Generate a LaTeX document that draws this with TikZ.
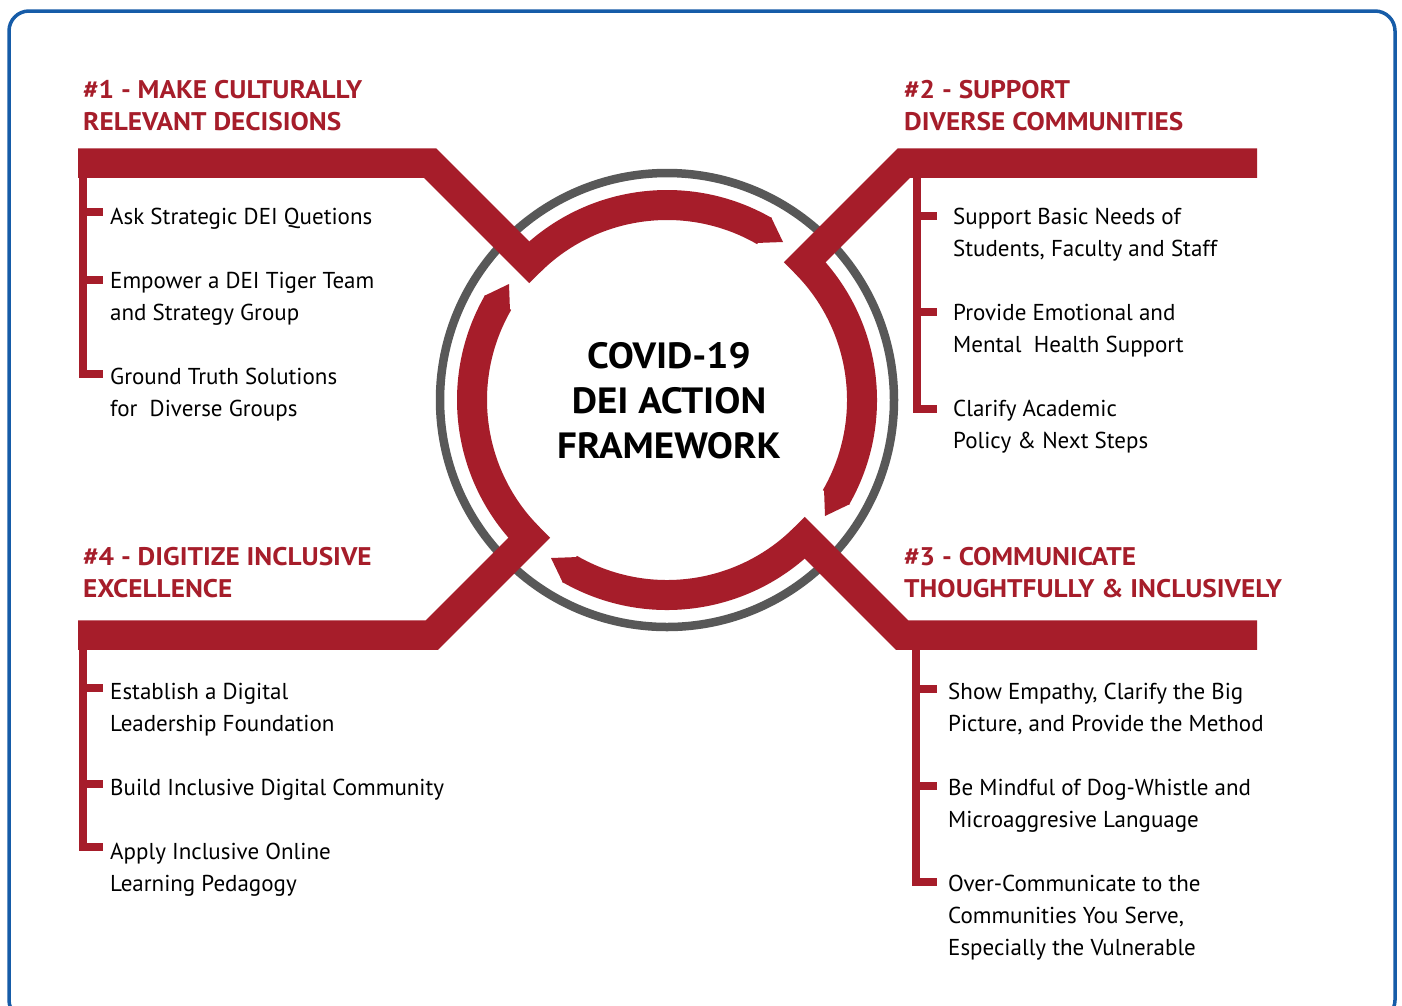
\documentclass[tikz,border=0pt]{standalone}
\usepackage{fontspec}
\usetikzlibrary{calc}
\setmainfont{PT Sans}
\newfontfamily\headfont[FakeStretch=1.07]{PT Sans Bold}
\definecolor{dred}{RGB}{166,29,42}
\definecolor{rgray}{RGB}{88,88,88}
\definecolor{bblue}{RGB}{22,92,168}
\newcommand{\mlines}[1]{\begin{tabular}[t]{@{}l@{}}#1\end{tabular}}
\newcommand{\mcent}[1]{\begin{tabular}[t]{@{}c@{}}#1\end{tabular}}
\begin{document}
\begin{tikzpicture}[x=1pt,y=-1pt,
  band/.style={draw=dred, line width=29.5pt, line join=miter, line cap=butt},
  redarc/.style={draw=dred, line width=30pt, line cap=butt},
  flare/.style={fill=dred},
  brk/.style={draw=dred, line width=7.5pt, line join=miter, line cap=butt},
  item/.style={anchor=base west, inner sep=0pt, font=\fontsize{23}{32}\selectfont},
  head/.style={anchor=base west, inner sep=0pt, text=dred, font=\headfont\fontsize{25.5}{32}\selectfont},
  ttl/.style={anchor=base, inner sep=0pt, font=\headfont\fontsize{36.5}{45}\selectfont}]
\useasboundingbox (0,0) rectangle (1402,1005);
\fill[white] (0,0) rectangle (1402,1005);
\begin{scope}
\clip (0,0) rectangle (1402,1005);
\draw[bblue, line width=3.5pt, rounded corners=20pt] (9,11) rectangle (1395,1020);
\end{scope}
% gray ring
\coordinate (C) at (667,400);
\draw[rgray, line width=8.5pt] (C) circle[radius=227];
% bands
\draw[band] (78,163) -- (430,163) -- ($(C)+(-135:180)$);
\draw[band] (1257,163) -- (904,163) -- ($(C)+(-45:180)$);
\draw[band] (1257,635) -- (902,635) -- ($(C)+(45:180)$);
\draw[band] (78,635) -- (432,635) -- ($(C)+(135:180)$);
% arcs
\draw[redarc] ($(C)+(-135:195)$) arc[start angle=-135, end angle=-60, radius=195];
\draw[redarc] ($(C)+(-45:195)$) arc[start angle=-45, end angle=30, radius=195];
\draw[redarc] ($(C)+(45:195)$) arc[start angle=45, end angle=120, radius=195];
\draw[redarc] ($(C)+(135:195)$) arc[start angle=135, end angle=210, radius=195];
% flares
\begin{scope}[shift={(667,400)}]
\fill[flare] (104,-183) -- (116,-158) -- (89,-157) -- (93,-171) -- cycle;
\fill[flare] (183,104) -- (158,116) -- (157,89) -- (171,93) -- cycle;
\fill[flare] (-104,183) -- (-116,158) -- (-89,157) -- (-93,171) -- cycle;
\fill[flare] (-183,-104) -- (-158,-116) -- (-157,-89) -- (-171,-93) -- cycle;
\end{scope}
% brackets
\draw[brk] (83,176) -- (83,374) -- (103,374);
\draw[brk] (83,212) -- (103,212);
\draw[brk] (83,280) -- (103,280);
\draw[brk] (917,176) -- (917,409) -- (937,409);
\draw[brk] (917,216) -- (937,216);
\draw[brk] (917,312) -- (937,312);
\draw[brk] (83,648) -- (83,847) -- (103,847);
\draw[brk] (83,688) -- (103,688);
\draw[brk] (83,784) -- (103,784);
\draw[brk] (916,648) -- (916,882) -- (937,882);
\draw[brk] (916,689) -- (937,689);
\draw[brk] (916,786) -- (937,786);
% headings
\node[head] (h1) at (83,98) {\mlines{\#1 - MAKE CULTURALLY\\RELEVANT DECISIONS}};
\node[head] (h2) at (904,98) {\mlines{\#2 - SUPPORT\\DIVERSE COMMUNITIES}};
\node[head] (h4) at (83,565) {\mlines{\#4 - DIGITIZE INCLUSIVE\\EXCELLENCE}};
\node[head] (h3) at (904,565) {\mlines{\#3 - COMMUNICATE\\THOUGHTFULLY \& INCLUSIVELY}};
% title
\node[ttl] (title) at (669,368) {\mcent{COVID-19\\DEI ACTION\\FRAMEWORK}};
% items 1
\node[item] (a1) at (110,224) {Ask Strategic DEI Quetions};
\node[item] (a2) at (110,288) {\mlines{Empower a DEI Tiger Team\\and Strategy Group}};
\node[item] (a3) at (110,384) {\mlines{Ground Truth Solutions\\for\ \ Diverse Groups}};
% items 2
\node[item] (b1) at (953,224) {\mlines{Support Basic Needs of\\Students, Faculty and Staff}};
\node[item] (b2) at (953,320) {\mlines{Provide Emotional and\\Mental\ \ Health Support}};
\node[item] (b3) at (953,416) {\mlines{Clarify Academic\\Policy \& Next Steps}};
% items 4
\node[item] (d1) at (110,699) {\mlines{Establish a Digital\\Leadership Foundation}};
\node[item] (d2) at (110,795) {Build Inclusive Digital Community};
\node[item] (d3) at (110,859) {\mlines{Apply Inclusive Online\\Learning Pedagogy}};
% items 3
\node[item] (c1) at (948,699) {\mlines{Show Empathy, Clarify the Big\\Picture, and Provide the Method}};
\node[item] (c2) at (948,795) {\mlines{Be Mindful of Dog-Whistle and\\Microaggresive Language}};
\node[item] (c3) at (948,891) {\mlines{Over-Communicate to the\\Communities You Serve,\\Especially the Vulnerable}};
\end{tikzpicture}
\end{document}
